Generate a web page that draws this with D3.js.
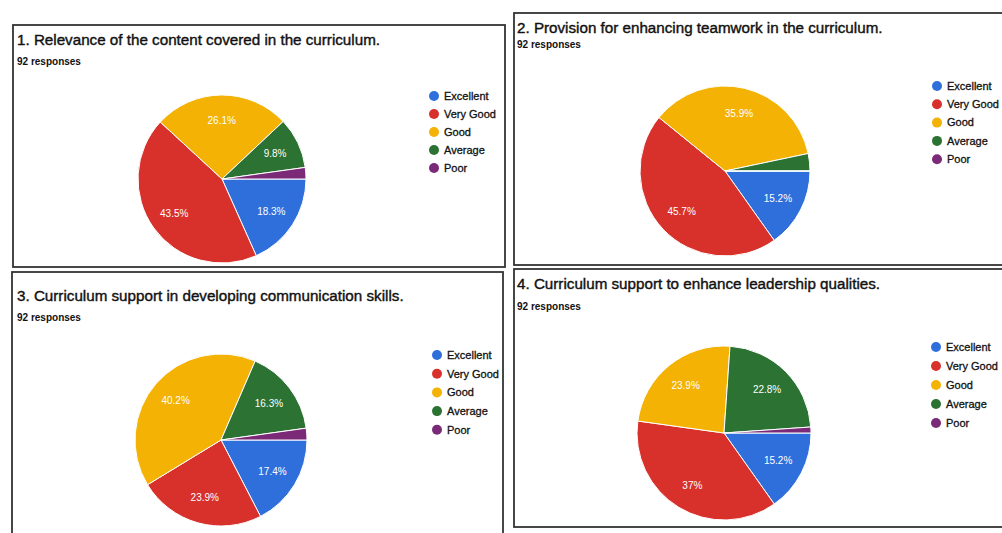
<!DOCTYPE html>
<html lang="en">
<head>
    <meta charset="UTF-8">
    <title>Curriculum feedback</title>
    <script src="https://cdn.jsdelivr.net/npm/d3@7/dist/d3.min.js"></script>
    <style>
        body { margin: 0; background: #fff; }
        svg { display: block; font-family: "Liberation Sans", Arial, sans-serif; }
    </style>
</head>
<body>
    <div class="pie-container"></div>
</body>
<script>
    const categories = ['Excellent', 'Very Good', 'Good', 'Average', 'Poor']
    const titles = [
        '1. Relevance of the content covered in the curriculum.',
        '2. Provision for enhancing teamwork in the curriculum.',
        '3. Curriculum support in developing communication skills.',
        '4. Curriculum support to enhance leadership qualities.'
    ]
    const responses = [92, 92, 92, 92]
    // percent of responses per category, in category order
    const q1 = [18.3, 43.5, 26.1, 9.8, 2.2]
    const q2 = [15.2, 45.7, 35.9, 3.3, 0]
    const q3 = [17.4, 23.9, 40.2, 16.3, 2.2]
    const q4 = [15.2, 37, 23.9, 22.8, 1.1]
    const allData = [q1, q2, q3, q4]

    const width = 1002
    const height = 533
    const colors = ['#2f6fdb', '#d8312c', '#f3b204', '#2c7232', '#7b2a78']

    // rough layout of the four scanned cards
    const panels = [
        { x: 13, y: 25, w: 492, h: 242, cx: 222, cy: 179, r: 84, tx: 17, ty: 45, ry: 65, lx: 434, ly: 96, ld: 18 },
        { x: 514, y: 13, w: 500, h: 252, cx: 725, cy: 171, r: 85, tx: 517, ty: 33, ry: 48, lx: 937, ly: 86, ld: 18.3 },
        { x: 12, y: 272, w: 491, h: 270, cx: 221, cy: 440, r: 86, tx: 17, ty: 301, ry: 321, lx: 437, ly: 355, ld: 18.7 },
        { x: 514, y: 269, w: 500, h: 258, cx: 724, cy: 433, r: 87, tx: 517, ty: 289, ry: 310, lx: 936, ly: 347, ld: 19 }
    ]

    const svg = d3.select('.pie-container')
        .append('svg')
        .attr('width', width)
        .attr('height', height)

    const color = d3.scaleOrdinal().domain(categories).range(colors)

    const pie = d3.pie()
        .sort(null)
        .value((d) => d.value)
        .startAngle(Math.PI / 2)
        .endAngle(Math.PI / 2 + 2 * Math.PI)

    function drawPanel(i) {
        const p = panels[i]
        const data = categories.map((c, k) => ({ cat: c, value: allData[i][k] }))
        const g = svg.append('g')

        g.append('rect')
            .attr('x', p.x).attr('y', p.y)
            .attr('width', p.w).attr('height', p.h)
            .attr('fill', 'none')
            .attr('stroke', '#333')
            .attr('stroke-width', 1.8)

        g.append('text')
            .attr('x', p.tx).attr('y', p.ty)
            .attr('font-size', 15.2)
            .attr('fill', '#111')
            .attr('stroke', '#111').attr('stroke-width', 0.4)
            .text(titles[i])

        g.append('text')
            .attr('x', p.tx).attr('y', p.ry)
            .attr('font-size', 10)
            .attr('font-weight', 'bold')
            .attr('fill', '#111')
            .text(responses[i] + ' responses')

        const arc = d3.arc().innerRadius(0).outerRadius(p.r)
        const labelArc = d3.arc().innerRadius(p.r * 0.7).outerRadius(p.r * 0.7)
        const arcs = pie(data)

        const pg = g.append('g').attr('transform', `translate(${p.cx}, ${p.cy})`)
        pg.selectAll('path')
            .data(arcs)
            .enter()
            .append('path')
            .attr('d', arc)
            .attr('fill', (d) => color(d.data.cat))
            .attr('stroke', '#fff')
            .attr('stroke-width', 1)

        pg.selectAll('text')
            .data(arcs.filter((d) => d.data.value >= 5))
            .enter()
            .append('text')
            .attr('transform', (d) => `translate(${labelArc.centroid(d)})`)
            .attr('text-anchor', 'middle')
            .attr('dy', '0.35em')
            .attr('font-size', 10)
            .attr('fill', '#fff')
            .text((d) => d.data.value + '%')

        const lg = g.selectAll('.legend-' + i)
            .data(categories)
            .enter()
            .append('g')
            .attr('transform', (d, k) => `translate(${p.lx}, ${p.ly + k * p.ld})`)
        lg.append('circle')
            .attr('r', 5)
            .attr('fill', (d) => color(d))
        lg.append('text')
            .attr('x', 10)
            .attr('dy', '0.35em')
            .attr('font-size', 11)
            .attr('fill', '#111')
            .attr('stroke', '#111').attr('stroke-width', 0.3)
            .text((d) => d)
    }

    for (let i = 0; i < 4; i++) drawPanel(i)
</script>
</html>
